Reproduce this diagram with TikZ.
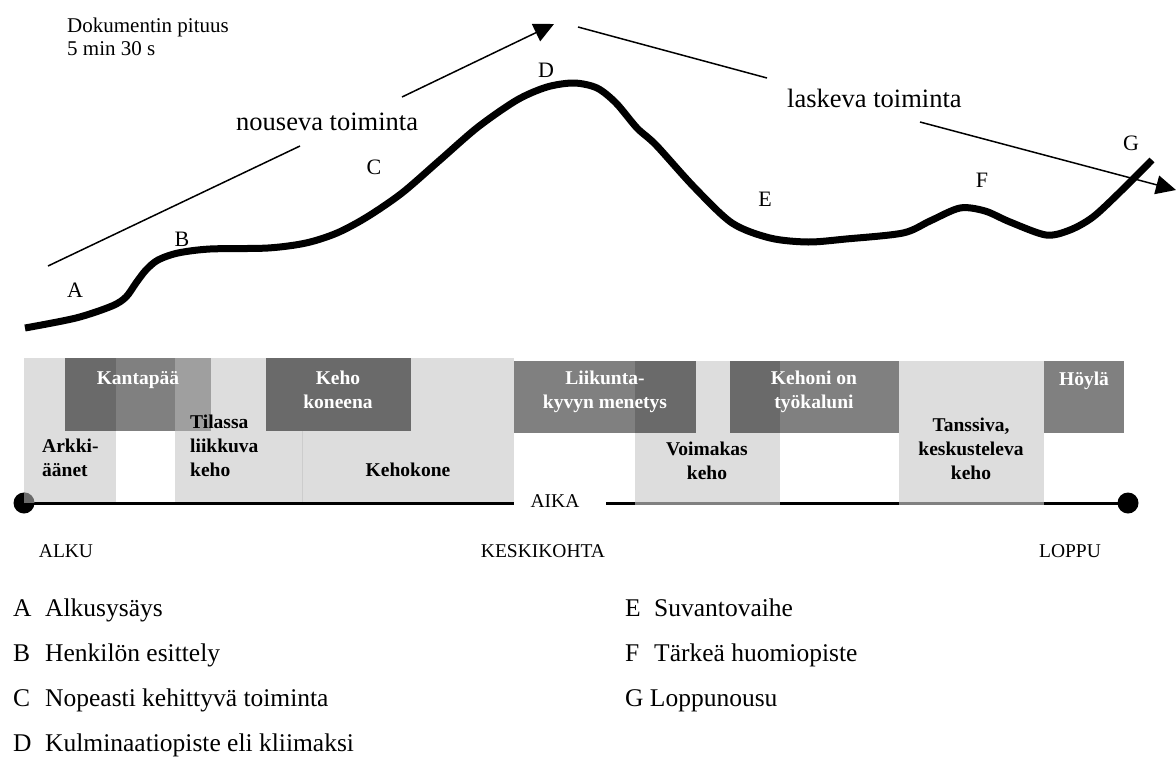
\documentclass[tikz,border=0pt]{standalone}
\usepackage{fontspec}
\setmainfont{Liberation Serif}
\usetikzlibrary{arrows.meta}
\definecolor{lightbox}{gray}{0.867}
\definecolor{midbox}{gray}{0.5}
\definecolor{darkbox}{gray}{0.416}
\definecolor{paleover}{gray}{0.624}
\definecolor{divider}{gray}{0.8}
\tikzset{
  px/.style={x=1pt,y=-1pt},
  curveline/.style={line width=7pt,line cap=butt,line join=round},
  trendline/.style={line width=1.5pt},
  trendarrow/.style={line width=1.5pt,-{Triangle[length=20pt,width=19pt]}},
  boxtext/.style={font=\fontsize{19.5}{24}\selectfont\bfseries,align=center,inner sep=0pt,anchor=base},
  whitetext/.style={boxtext,text=white},
  lbl/.style={font=\fontsize{22}{26}\selectfont,inner sep=0pt},
  big/.style={font=\fontsize{26.5}{30}\selectfont,inner sep=0pt,anchor=base west},
  small/.style={font=\fontsize{21}{23}\selectfont,inner sep=0pt,align=left,anchor=base west},
  tick/.style={font=\fontsize{19.5}{22}\selectfont,inner sep=0pt,anchor=base},
  legend/.style={font=\fontsize{25.5}{30}\selectfont,inner sep=0pt,anchor=base west},
  dot/.style={circle,fill=black,minimum size=21pt,inner sep=0pt}
}
\begin{document}
\begin{tikzpicture}[px]
\useasboundingbox[fill=white] (0,0) rectangle (1176,758);
% header
\node[small] (doc) at (67,55) {Dokumentin pituus\\5 min 30 s};
% timeline base line (under the boxes)
\node[dot] (start) at (24,503) {};
\node[dot] (end) at (1128,503) {};
\coordinate (gapL) at (514,503);
\coordinate (gapR) at (606,503);
\draw[line width=3pt] (start.center) -- (gapL);
\draw[line width=3pt] (gapR) -- (end.center);
% boxes
\fill[lightbox] (24,358) rectangle (116,502);
\fill[lightbox] (175,358) rectangle (302,502);
\fill[lightbox] (302,358) rectangle (514,502);
\draw[divider,line width=0.5pt] (302,358) -- (302,502);
\fill[darkbox] (65,358) rectangle (116,431);
\fill[midbox] (116,358) rectangle (175,431);
\fill[paleover] (175,358) rectangle (211,431);
\fill[darkbox] (266,358) rectangle (411,431);
\fill[lightbox] (635,361) rectangle (780,502);
\fill[lightbox] (899,361) rectangle (1044,502);
\fill[midbox] (514,361) rectangle (635,433);
\fill[darkbox] (635,361) rectangle (696,433);
\fill[darkbox] (730,361) rectangle (780,433);
\fill[midbox] (780,361) rectangle (899,433);
\fill[midbox] (1044,361) rectangle (1124,433);
\fill[midbox] (635,502) rectangle (780,505);
\fill[midbox] (899,502) rectangle (1044,505);
\fill[darkbox] (start.center) -- (start.north) arc (90:0:10.5pt) -- cycle;
% box texts
\node[boxtext,align=left,anchor=base west] (arkki) at (42,476) {Arkki-\\äänet};
\node[whitetext] (kanta) at (138,384) {Kantapää};
\node[boxtext,align=left,anchor=base west] (tilassa) at (190,476) {Tilassa\\liikkuva\\keho};
\node[boxtext] (kehokone) at (408,476) {Kehokone};
\node[whitetext] (kehokoneena) at (338,408) {Keho\\koneena};
\node[whitetext] (liikunta) at (605,408) {Liikunta-\\kyvyn menetys};
\node[boxtext] (voimakas) at (707,479) {Voimakas\\keho};
\node[whitetext] (kehoni) at (814,408) {Kehoni on\\työkaluni};
\node[boxtext] (tanssiva) at (971,479) {Tanssiva,\\keskusteleva\\keho};
\node[whitetext] (hoyla) at (1084,385) {Höylä};
% timeline labels
\node[tick] (aika) at (555,507) {AIKA};
\node[tick] (alku) at (66,557) {ALKU};
\node[tick] (keski) at (543,557) {KESKIKOHTA};
\node[tick] (loppu) at (1070,557) {LOPPU};
% trend lines
\coordinate (u1) at (48,266);
\coordinate (u2) at (300,146);
\coordinate (u3) at (402,97);
\coordinate (u4) at (554,24);
\node[big] (nouseva) at (236,130) {nouseva toiminta};
\draw[trendline] (u1) -- (u2);
\draw[trendarrow] (u3) -- (u4);
\coordinate (d1) at (578,27);
\coordinate (d2) at (767,78);
\coordinate (d3) at (920,122);
\coordinate (d4) at (1176,190);
\node[big] (laskeva) at (787,107) {laskeva toiminta};
\draw[trendline] (d1) -- (d2);
\draw[trendarrow] (d3) -- (d4);
% curve
\draw[curveline] plot[smooth,tension=0.5] coordinates {
 (25,328) (76,318) (112,306) (126,297) (136,283) (146,270) (158,260) (178,253)
 (210,249) (268,248) (306,243) (337,233) (367,217) (402,193) (440,160) (478,127)
 (517,100) (547,87) (574,83) (597,88) (616,103) (637,128) (656,145) (694,187)
 (732,223) (770,238) (808,242) (846,239) (903,233) (930,221) (960,208) (985,211)
 (1010,222) (1046,235) (1070,230) (1093,217) (1120,192) (1152,160)};
% curve labels
\node[lbl] (A) at (75,290) {A};
\node[lbl] (B) at (182,239) {B};
\node[lbl] (C) at (374,167) {C};
\node[lbl] (D) at (546,70) {D};
\node[lbl] (E) at (765,199) {E};
\node[lbl] (F) at (982,180) {F};
\node[lbl] (G) at (1131,143) {G};
% legend
\node[legend] (la) at (13,616) {A};
\node[legend] (lat) at (45,616) {Alkusysäys};
\node[legend] (lb) at (13,661) {B};
\node[legend] (lbt) at (45,661) {Henkilön esittely};
\node[legend] (lc) at (13,706) {C};
\node[legend] (lct) at (45,706) {Nopeasti kehittyvä toiminta};
\node[legend] (ld) at (13,751) {D};
\node[legend] (ldt) at (45,751) {Kulminaatiopiste eli kliimaksi};
\node[legend] (le) at (625,616) {E};
\node[legend] (let) at (654,616) {Suvantovaihe};
\node[legend] (lf) at (625,661) {F};
\node[legend] (lft) at (654,661) {Tärkeä huomiopiste};
\node[legend] (lg) at (625,706) {G Loppunousu};
\end{tikzpicture}
\end{document}
